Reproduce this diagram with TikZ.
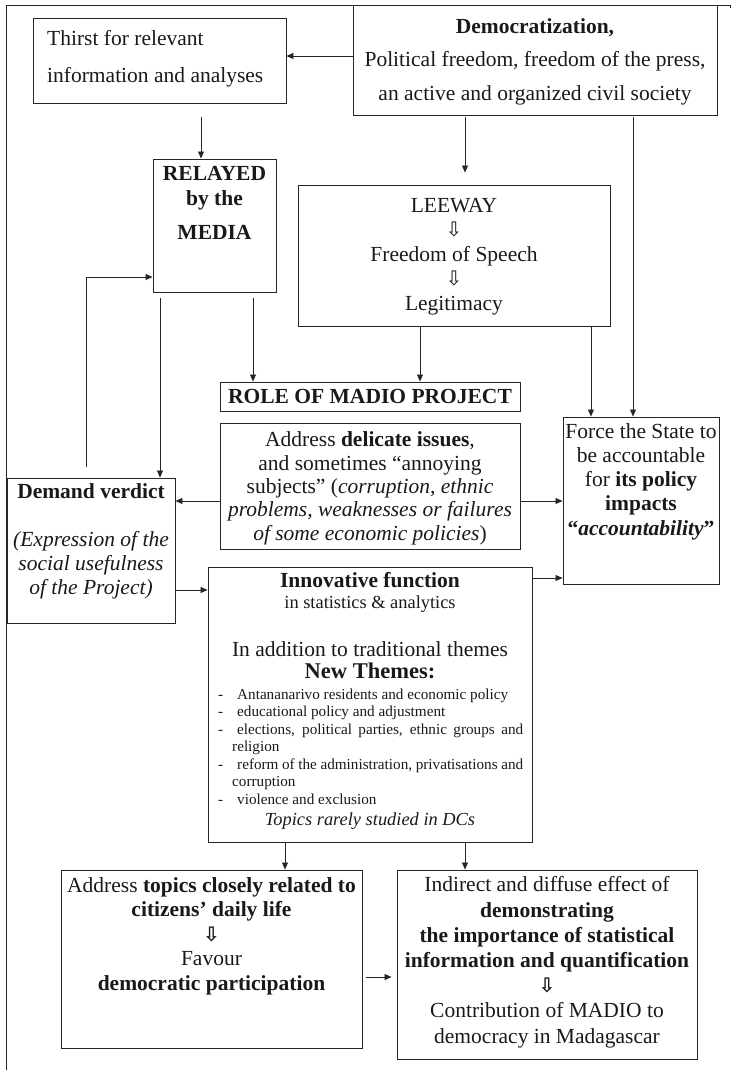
\documentclass[tikz,border=0pt]{standalone}
\usepackage{fontspec}
\setmainfont{Liberation Serif}
\newfontfamily\symfont{DejaVu Sans}
\usetikzlibrary{arrows.meta}
\newcommand\fs[2]{\fontsize{#1}{#2}\selectfont}
\newcommand\dar{{\symfont\fontsize{20}{20}\selectfont ⇩}}
\newcommand\bdar{{\symfont\bfseries\fontsize{20}{20}\selectfont ⇩}}
\newcommand\itm{\makebox[0pt][r]{-\hspace{9pt}}\hspace*{5pt}}
\begin{document}
\begin{tikzpicture}[x=1pt,y=-1pt,
  box/.style={draw=black!85, line width=0.9pt, inner sep=0pt},
  arr/.style={draw=black!85, line width=0.8pt, -{Triangle[length=7pt,width=6pt]}},
  txt/.style={inner sep=0pt, align=center, text=black!90, font=\fs{21.5}{24}}]
\useasboundingbox (0,0) rectangle (736,1074);

% frame
\draw[black!85, line width=0.9pt] (6,1070) -- (6,5) -- (730,5) -- (730,8);

% boxes
\node[box, minimum width=253pt, minimum height=85pt]  (thirst)  at (159.5,60.5) {};
\node[box, minimum width=364pt, minimum height=110pt] (democ)   at (535,60) {};
\node[box, minimum width=123pt, minimum height=133pt] (relayed) at (214.5,225.5) {};
\node[box, minimum width=312pt, minimum height=141pt] (leeway)  at (454,255.5) {};
\node[box, minimum width=300pt, minimum height=29pt]  (role)    at (370,396.5) {};
\node[box, minimum width=300pt, minimum height=126pt] (address) at (370,486) {};
\node[box, minimum width=156pt, minimum height=167pt] (force)   at (641,500.5) {};
\node[box, minimum width=168pt, minimum height=145pt] (demand)  at (91,550.5) {};
\node[box, minimum width=324pt, minimum height=275pt] (innov)   at (370,704.5) {};
\node[box, minimum width=301pt, minimum height=178pt] (botL)    at (211.5,959) {};
\node[box, minimum width=300pt, minimum height=189pt] (botR)    at (547,964.5) {};

% texts (anchor base = baseline of the last line)
\node[txt, anchor=base west, align=left, font=\fs{21.5}{37}] (thirstT) at (47,82)
  {Thirst for relevant\\information and analyses};
\node[txt, font=\fs{21.5}{33.5}, anchor=base] (democT) at (535,100)
  {\textbf{Democratization,}\\Political freedom, freedom of the press,\\an active and organized civil society};
\node[txt, font=\fs{21.5}{25}, anchor=base] (relayedT) at (214.5,239)
  {\textbf{RELAYED}\\\textbf{by the}\\[9pt]\textbf{MEDIA}};
\node[txt, font=\fs{21.5}{24.5}, anchor=base] (leewayT) at (454,310)
  {LEEWAY\\\dar\\Freedom of Speech\\\dar\\Legitimacy};
\node[txt, anchor=base] (roleT) at (370,403) {\textbf{ROLE OF MADIO PROJECT}};
\node[txt, font=\fs{21.5}{23.3}, anchor=base] (addressT) at (370,540)
  {Address \textbf{delicate issues},\\and sometimes “annoying\\subjects” (\textit{corruption, ethnic}\\\textit{problems, weaknesses or failures}\\\textit{of some economic policies})};
\node[txt, font=\fs{21.5}{24.25}, anchor=base] (forceT) at (641,535)
  {Force the State to\\be accountable\\for \textbf{its policy}\\\textbf{impacts}\\\textbf{“\textit{accountability}”}};
\node[txt, font=\fs{21.5}{24}, anchor=base] (demandT) at (91,594)
  {\textbf{Demand verdict}\\[24pt]\textit{(Expression of the}\\\textit{social usefulness}\\\textit{of the Project)}};
\node[txt, font=\fs{21.5}{21}, anchor=base] (innovT1) at (370,608)
  {\textbf{Innovative function}\\{\fs{18.4}{21}in statistics \& analytics}};
\node[txt, font=\fs{21.5}{22}, anchor=base] (innovT2) at (370,678)
  {In addition to traditional themes\\{\fs{22.5}{22}\textbf{New Themes:}}};
\node[txt, font=\fs{15.2}{17.5}, anchor=base west, align=left] (innovL) at (232,804)
  {\itm Antananarivo residents and economic policy\\
   \itm educational policy and adjustment\\
   \makebox[0pt][r]{-\hspace{9pt}}\makebox[291pt][s]{\hspace*{5pt}elections, political parties, ethnic groups and}\\
   religion\\
   \makebox[0pt][r]{-\hspace{9pt}}\makebox[291pt][s]{\hspace*{5pt}reform of the administration, privatisations and}\\
   corruption\\
   \itm violence and exclusion};
\node[txt, font=\fs{18.4}{20}, anchor=base] (innovT3) at (370,825) {\textit{Topics rarely studied in DCs}};
\node[txt, font=\fs{21.5}{24.5}, anchor=base] (botLT) at (211.5,990)
  {Address \textbf{topics closely related to}\\\textbf{citizens’ daily life}\\\bdar\\Favour\\\textbf{democratic participation}};
\node[txt, font=\fs{21.5}{25.2}, anchor=base] (botRT) at (547,1043)
  {Indirect and diffuse effect of\\\textbf{demonstrating}\\\textbf{the importance of statistical}\\\textbf{information and quantification}\\\bdar\\Contribution of MADIO to\\democracy in Madagascar};

% connectors
\draw[arr] ([yshift=4pt]democ.west) -- ([yshift=4pt]democ.west -| thirst.east);
\draw[arr, shorten <=14pt] ([xshift=41.5pt]thirst.south) -- ([xshift=-13.5pt]relayed.north);
\draw[arr, shorten <=2pt, shorten >=12pt] ([xshift=-70pt]democ.south) -- ([xshift=11pt]leeway.north);
\draw[arr, shorten <=2pt] ([xshift=98pt]democ.south) -- ([xshift=-8pt]force.north);
\coordinate (fb) at (86,467);
\draw[arr] (fb) |- ([yshift=-51.5pt]relayed.west);
\draw[arr, shorten <=6pt] ([xshift=-54.5pt]relayed.south) -- ([xshift=69pt]demand.north);
\draw[arr, shorten <=6pt] ([xshift=38.5pt]relayed.south) -- ([xshift=-117pt]role.north);
\draw[arr] ([xshift=-34pt]leeway.south) -- ([xshift=50pt]role.north);
\draw[arr] ([xshift=137pt]leeway.south) -- ([xshift=-50pt]force.north);
\draw[arr] ([yshift=-15pt]address.west) -- ([yshift=-15pt]address.west -| demand.east);
\draw[arr] ([yshift=-15pt]address.east) -- ([yshift=-15pt]address.east -| force.west);
\draw[arr] ([yshift=-39.5pt]demand.east) -- ([yshift=-39.5pt]demand.east -| innov.west);
\draw[arr] ([yshift=126.5pt]innov.east) -- ([yshift=126.5pt]innov.east -| force.west);
\draw[arr] ([xshift=-85pt]innov.south) -- ([xshift=73.5pt]botL.north);
\draw[arr] ([xshift=95pt]innov.south) -- ([xshift=-82pt]botR.north);
\draw[arr, shorten <=4pt, shorten >=5pt] ([yshift=-18pt]botL.east) -- ([yshift=-18pt]botL.east -| botR.west);
\end{tikzpicture}
\end{document}
